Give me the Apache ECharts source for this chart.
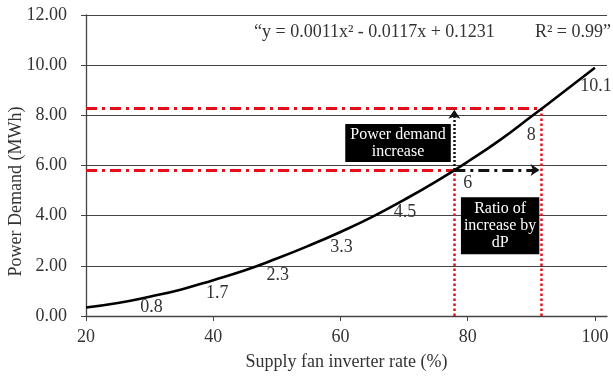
<!DOCTYPE html>
<html>
<head>
<meta charset="utf-8">
<script src="https://cdn.jsdelivr.net/npm/echarts@6/dist/echarts.min.js"></script>
<style>
  html, body { margin: 0; padding: 0; background: #fff; }
  #chart { width: 613px; height: 376px; }
</style>
</head>
<body>
<div id="chart"></div>
<script>
// curve
const fanRate = [20, 25, 30, 35, 40, 45, 50, 55, 60, 65, 70, 75, 80, 85, 90, 95, 100]
const powerDemand = [0.34, 0.52, 0.77, 1.06, 1.43, 1.82, 2.29, 2.80, 3.35, 3.95, 4.63, 5.36, 6.15, 7.00, 7.95, 8.92, 9.90]

// data labels sitting under the curve
const labelRate = [30, 40, 50, 60, 70, 80, 90, 100]
const labelAnchor = [0.77, 1.43, 2.29, 3.35, 4.63, 6.15, 7.95, 9.90]
const labelText = ['0.8', '1.7', '2.3', '3.3', '4.5', '6', '8', '10.1']

// reference points for the dP annotation
const lowPoint = [77.9, 5.82]
const highPoint = [91.6, 8.27]

const xTicks = [20, 40, 60, 80, 100]
const equationText = '\u201cy = 0.0011x\u00b2 - 0.0117x + 0.1231'
const r2Text = 'R\u00b2 = 0.99\u201d'
const demandBoxText = 'Power demand\nincrease'
const ratioBoxText = 'Ratio of\nincrease by\ndP'

// styling
const FONT = 'Liberation Serif'
const TEXT = '#333'
const RED = '#e3101b'
const labelOffsets = [[2, 11], [4, 13], [1, 17], [1, 15], [1, 12], [0, 22], [0, 19], [1, 19]]
const demandBoxAt = [69.05, 6.9]
const ratioBoxAt = [85.1, 3.6]

const chart = echarts.init(document.getElementById('chart'), null, { renderer: 'canvas' })

const seg = (a, b) => [a, b]

const option = {
  backgroundColor: '#fff',
  animation: false,
  textStyle: { fontFamily: FONT },
  title: [
    {
      text: equationText,
      left: 254,
      top: 23,
      padding: 0,
      textStyle: { fontFamily: FONT, fontSize: 18, fontWeight: 'normal', color: TEXT },
    },
    {
      text: r2Text,
      right: 2,
      top: 23,
      padding: 0,
      textStyle: { fontFamily: FONT, fontSize: 18, fontWeight: 'normal', color: TEXT },
    },
  ],
  grid: { left: 86, right: 6, top: 15, bottom: 60, containLabel: false, outerBoundsMode: 'none' },
  xAxis: {
    type: 'value',
    min: 20,
    max: 101.9,
    interval: 20,
    name: 'Supply fan inverter rate (%)',
    nameLocation: 'middle',
    nameGap: 37,
    nameMoveOverlap: false,
    nameTextStyle: { fontFamily: FONT, fontSize: 18, color: TEXT },
    axisLine: { show: true, lineStyle: { color: '#444', width: 1.3 } },
    axisTick: { show: true, inside: false, length: 5, customValues: xTicks, lineStyle: { color: '#444' } },
    axisLabel: {
      customValues: xTicks,
      margin: 12,
      fontFamily: FONT,
      fontSize: 18,
      color: TEXT,
    },
    splitLine: { show: false },
  },
  yAxis: {
    type: 'value',
    min: 0,
    max: 12,
    interval: 2,
    name: 'Power Demand (MWh)',
    nameLocation: 'middle',
    nameGap: 61,
    nameRotate: 90,
    nameMoveOverlap: false,
    nameTextStyle: { fontFamily: FONT, fontSize: 18, color: TEXT, padding: [0, 52, 0, 0] },
    axisLine: { show: true, lineStyle: { color: '#444', width: 1.3 } },
    axisTick: { show: true, inside: false, length: 5, lineStyle: { color: '#444' } },
    axisLabel: {
      margin: 19,
      fontFamily: FONT,
      fontSize: 18,
      color: TEXT,
      formatter: v => v.toFixed(2),
    },
    splitLine: { show: true, lineStyle: { color: '#444', width: 1.2 } },
  },
  series: [
    // red dash-dot horizontals
    {
      type: 'lines',
      coordinateSystem: 'cartesian2d',
      silent: true,
      z: 3,
      lineStyle: { color: RED, width: 3, type: [11, 5, 3, 5], opacity: 1 },
      data: [
        { coords: seg([20, lowPoint[1]], lowPoint) },
        { coords: seg([20, highPoint[1]], highPoint) },
      ],
    },
    // red dotted verticals
    {
      type: 'lines',
      coordinateSystem: 'cartesian2d',
      silent: true,
      z: 3,
      lineStyle: { color: RED, width: 2.5, type: [2.5, 2.5], opacity: 1 },
      data: [
        { coords: seg([lowPoint[0], 0], lowPoint) },
        { coords: seg([highPoint[0], 0], highPoint) },
      ],
    },
    // black dotted arrow: power demand increase
    {
      type: 'lines',
      coordinateSystem: 'cartesian2d',
      silent: true,
      z: 4,
      symbol: ['none', 'arrow'],
      symbolSize: [0, 9],
      lineStyle: { color: '#111', width: 2.5, type: [2, 2], opacity: 1 },
      data: [{ coords: seg(lowPoint, [lowPoint[0], highPoint[1] - 0.05]) }],
    },
    // black dash-dot arrow: ratio of increase
    {
      type: 'lines',
      coordinateSystem: 'cartesian2d',
      silent: true,
      z: 4,
      symbol: ['none', 'arrow'],
      symbolSize: [0, 9],
      lineStyle: { color: '#111', width: 3, type: [11, 5, 3, 5], opacity: 1 },
      data: [{ coords: seg(lowPoint, [highPoint[0] - 0.3, lowPoint[1]]) }],
    },
    // fitted curve
    {
      name: 'Power demand',
      type: 'line',
      smooth: true,
      symbol: 'none',
      z: 5,
      lineStyle: { color: '#000', width: 2.6 },
      data: fanRate.map((x, i) => [x, powerDemand[i]]),
    },
    // value labels along the curve
    {
      type: 'scatter',
      symbolSize: 0,
      silent: true,
      z: 6,
      itemStyle: { opacity: 1 },
      label: {
        show: true,
        position: 'inside',
        fontFamily: FONT,
        fontSize: 18,
        color: TEXT,
        opacity: 1,
        formatter: p => labelText[p.dataIndex],
      },
      data: labelRate.map((x, i) => ({
        value: [x, labelAnchor[i]],
        label: { offset: labelOffsets[i] },
      })),
    },
    // black annotation boxes
    {
      type: 'scatter',
      symbolSize: 0,
      silent: true,
      z: 7,
      itemStyle: { opacity: 1 },
      label: {
        show: true,
        position: 'inside',
        fontFamily: FONT,
        fontSize: 16,
        lineHeight: 17,
        color: '#fff',
        opacity: 1,
        backgroundColor: '#000',
        align: 'center',
      },
      data: [
        { value: demandBoxAt, label: { formatter: demandBoxText, padding: [2, 5, 2, 5] } },
        { value: ratioBoxAt, label: { formatter: ratioBoxText, padding: [3, 3, 3, 3] } },
      ],
    },
  ],
}

chart.setOption(option)
window.addEventListener('resize', () => chart.resize())
</script>
</body>
</html>
